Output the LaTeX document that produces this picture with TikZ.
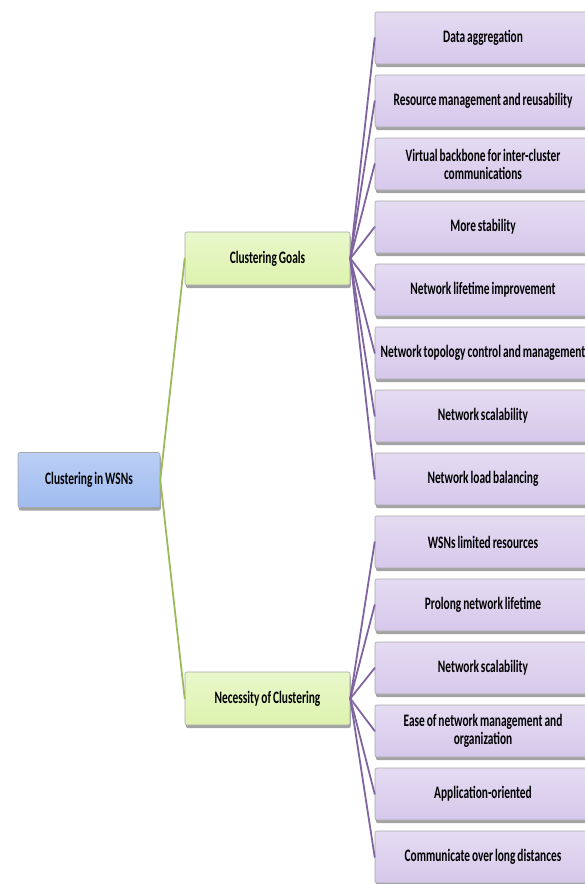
\documentclass[tikz,border=0pt]{standalone}
\usepackage{fontspec}
\setmainfont{Carlito}[FakeStretch=0.65, WordSpace=0.75]
\usetikzlibrary{shadows}

\definecolor{rootfill}{HTML}{9FBBF0}
\definecolor{goalfill}{HTML}{DDF3AE}
\definecolor{itemfill}{HTML}{D6C8EB}
\definecolor{goalline}{HTML}{9BBB59}
\definecolor{itemline}{HTML}{8064A2}

\begin{document}
\begin{tikzpicture}[x=1pt, y=-1pt, line join = round, line cap = round,
    box/.style={draw=gray!70, line width=.6pt, rounded corners=2pt,
        align=center, inner sep=2pt,
        font=\fontsize{17.5}{18}\selectfont\bfseries,
        drop shadow={shadow xshift=.8pt, shadow yshift=-3pt, fill=black!60, opacity=.6}},
    rootbox/.style={box, minimum width=142pt, minimum height=55pt,
        top color=rootfill!70, bottom color=rootfill},
    goalbox/.style={box, minimum width=165pt, minimum height=53pt,
        top color=goalfill!65, bottom color=goalfill},
    itembox/.style={box, minimum width=216pt, minimum height=52pt,
        top color=itemfill!65, bottom color=itemfill},
    greenlink/.style={goalline, line width=1.8pt},
    purplelink/.style={itemline, line width=1.8pt}]

\useasboundingbox (0,0) rectangle (584,884);

\node [rootbox] (wsn) at (89, 480) {Clustering in WSNs};

\node [goalbox] (goals) at (267.5, 258.5) {Clustering Goals};
\node [goalbox] (need)  at (267.5, 698.5) {Necessity of Clustering};

\node [itembox] (g1) at (483, 38)  {Data aggregation};
\node [itembox] (g2) at (483, 101) {Resource management and reusability};
\node [itembox] (g3) at (483, 164) {Virtual backbone for inter-cluster\\communications};
\node [itembox] (g4) at (483, 227) {More stability};
\node [itembox] (g5) at (483, 290) {Network lifetime improvement};
\node [itembox] (g6) at (483, 353) {Network topology control and management};
\node [itembox] (g7) at (483, 416) {Network scalability};
\node [itembox] (g8) at (483, 479) {Network load balancing};

\node [itembox] (n1) at (483, 542) {WSNs limited resources};
\node [itembox] (n2) at (483, 605) {Prolong network lifetime};
\node [itembox] (n3) at (483, 668) {Network scalability};
\node [itembox] (n4) at (483, 731) {Ease of network management and\\organization};
\node [itembox] (n5) at (483, 794) {Application-oriented};
\node [itembox] (n6) at (483, 857) {Communicate over long distances};

\draw [greenlink] (wsn.east) -- (goals.west);
\draw [greenlink] (wsn.east) -- (need.west);

\foreach \i in {g1,g2,g3,g4,g5,g6,g7,g8}
    \draw [purplelink] (goals.east) -- (\i.west);

\foreach \i in {n1,n2,n3,n4,n5,n6}
    \draw [purplelink] (need.east) -- (\i.west);

\end{tikzpicture}
\end{document}
